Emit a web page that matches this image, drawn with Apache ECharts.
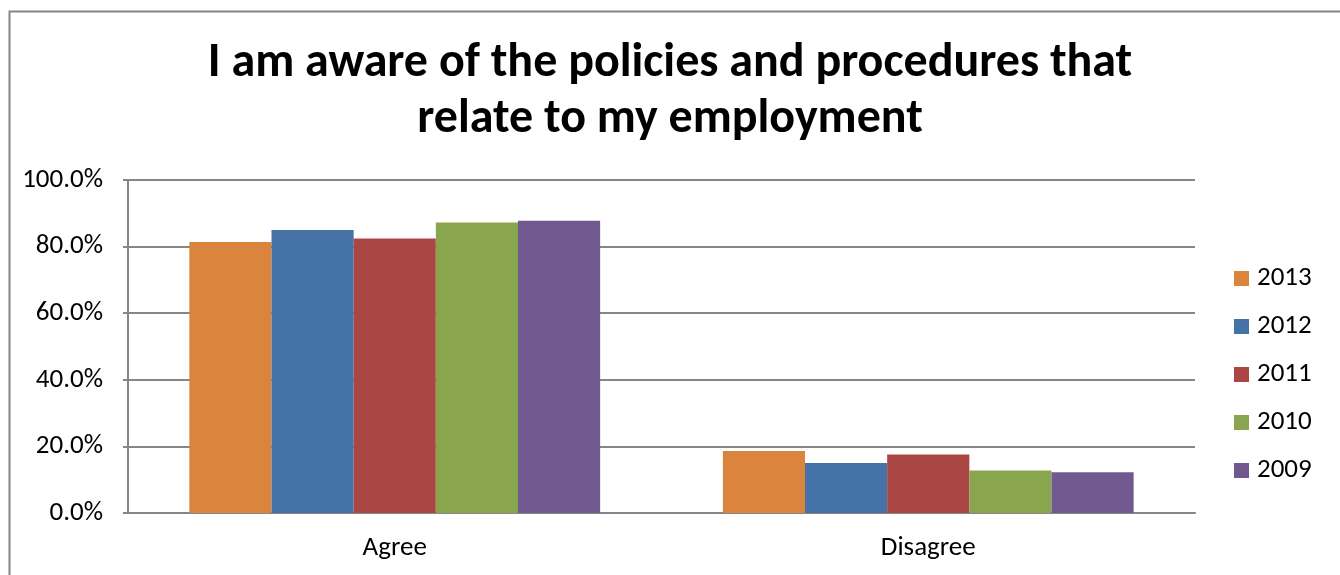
<!DOCTYPE html>
<html>
<head>
<meta charset="utf-8">
<script src="https://cdn.jsdelivr.net/npm/echarts@6/dist/echarts.min.js"></script>
<style>html,body{margin:0;padding:0;background:#fff}#c{width:1340px;height:575px}</style>
</head>
<body>
<div id="c"></div>
<script>
const categories = ['Agree', 'Disagree'];
const seriesNames = ['2013', '2012', '2011', '2010', '2009'];
const v2013 = [81.4, 18.6];
const v2012 = [85.0, 15.0];
const v2011 = [82.4, 17.6];
const v2010 = [87.2, 12.8];
const v2009 = [87.8, 12.2];
const yTicks = [0, 20, 40, 60, 80, 100];
const colors = ['#DB843D', '#4572A7', '#AA4643', '#89A54E', '#71588F'];

const values = [v2013, v2012, v2011, v2010, v2009];
const FONT = 'Carlito, Lato, "Open Sans", sans-serif';
const chart = echarts.init(document.getElementById('c'));
chart.setOption({
  animation: false,
  backgroundColor: '#fff',
  color: colors,
  title: {
    text: 'I am aware of the policies and procedures that\nrelate to my employment',
    left: 'center',
    top: 31,
    textStyle: { fontFamily: FONT, fontSize: 48, fontWeight: 'bold', color: '#000', lineHeight: 56 }
  },
  graphic: [{
    type: 'rect', left: 7, top: 9,
    shape: { width: 1332, height: 600 },
    style: { fill: 'none', stroke: '#868686', lineWidth: 2 },
    silent: true
  }],
  legend: {
    orient: 'vertical',
    left: 1229, top: 260,
    itemWidth: 15, itemHeight: 15, itemGap: 21,
    icon: 'rect',
    textStyle: { fontFamily: FONT, fontSize: 27, lineHeight: 27, color: '#000', padding: [0, 0, 0, 3] },
    data: seriesNames
  },
  grid: { left: 128, right: 145, top: 180, bottom: 62, containLabel: false },
  xAxis: {
    type: 'category',
    data: categories,
    axisLine: { lineStyle: { color: '#868686', width: 2 } },
    axisTick: { show: false },
    axisLabel: { fontFamily: FONT, fontSize: 27, color: '#000', margin: 22 }
  },
  yAxis: {
    type: 'value',
    min: 0, max: 100, interval: 20,
    axisLine: { show: true, lineStyle: { color: '#868686', width: 2 } },
    axisTick: { show: true, length: 5, lineStyle: { color: '#868686', width: 2 } },
    splitLine: { lineStyle: { color: '#868686', width: 2 } },
    axisLabel: {
      fontFamily: FONT, fontSize: 27, color: '#000', margin: 25,
      formatter: v => yTicks.includes(v) ? v.toFixed(1) + '%' : ''
    }
  },
  series: seriesNames.map((n, i) => ({
    name: n,
    type: 'bar',
    data: values[i],
    barGap: '0%',
    barCategoryGap: '23%',
    itemStyle: { color: colors[i] }
  }))
});
</script>
</body>
</html>
